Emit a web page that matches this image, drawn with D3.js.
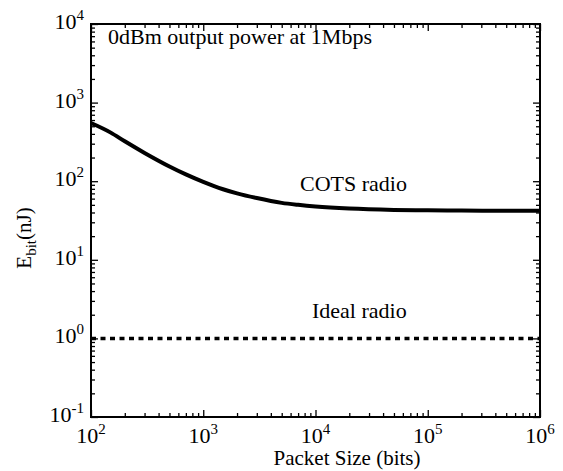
<!DOCTYPE html>
<html>
<head>
<meta charset="utf-8">
<script src="https://cdn.jsdelivr.net/npm/d3@7"></script>
<style>
  body { margin: 0; background: #fff; }
  svg { display: block; }
</style>
</head>
<body>
<svg id="chart" width="563" height="471"></svg>
<script>
// Energy per bit versus packet size, log-log
const packetSize = [100, 150, 200, 300, 500, 700, 1000, 1500, 2000, 3000, 5000, 7000,
                    10000, 20000, 50000, 100000, 200000, 500000, 1000000];
const cotsEnergy = [550, 415, 322, 229, 154, 122, 98, 79, 70, 61, 53, 50,
                    47.6, 44.8, 43.1, 42.6, 42.3, 42.1, 42];
const idealSize = [100, 1000000];
const idealEnergy = [1, 1];
const xTickExponents = [2, 3, 4, 5, 6];
const yTickExponents = [-1, 0, 1, 2, 3, 4];
const seriesLabels = ["COTS radio", "Ideal radio"];
const titleText = "0dBm output power at 1Mbps";
const xTitle = "Packet Size (bits)";

const FONT = "Liberation Serif";
const W = 563, H = 471;
const margin = { top: 24, right: 23, bottom: 54, left: 91 };
const iw = W - margin.left - margin.right;
const ih = H - margin.top - margin.bottom;

const svg = d3.select("#chart");
const g = svg.append("g").attr("transform", `translate(${margin.left},${margin.top})`);

const x = d3.scaleLog().domain([1e2, 1e6]).range([0, iw]);
const y = d3.scaleLog().domain([1e-1, 1e4]).range([ih, 0]);

const MAJOR = 7, MINOR = 4;
const isMajor = v => Math.abs(Math.log10(v) - Math.round(Math.log10(v))) < 1e-9;
const xTicks = x.ticks();
const yTicks = y.ticks();

function styleAxis(sel, dir) {
  sel.select(".domain").remove();
  sel.selectAll(".tick text").remove();
  sel.selectAll(".tick line")
    .attr("stroke", "#000")
    .attr("stroke-width", 1.3)
    .each(function (d) {
      const len = (isMajor(d) ? MAJOR : MINOR) * dir.sign;
      d3.select(this).attr(dir.attr, len);
    });
}

// ticks point inward on all four sides
g.append("g").attr("transform", `translate(0,${ih})`)
  .call(d3.axisBottom(x).tickValues(xTicks).tickFormat(""))
  .call(s => styleAxis(s, { attr: "y2", sign: -1 }));
g.append("g")
  .call(d3.axisTop(x).tickValues(xTicks).tickFormat(""))
  .call(s => styleAxis(s, { attr: "y2", sign: 1 }));
g.append("g")
  .call(d3.axisLeft(y).tickValues(yTicks).tickFormat(""))
  .call(s => styleAxis(s, { attr: "x2", sign: 1 }));
g.append("g").attr("transform", `translate(${iw},0)`)
  .call(d3.axisRight(y).tickValues(yTicks).tickFormat(""))
  .call(s => styleAxis(s, { attr: "x2", sign: -1 }));

// frame
g.append("rect").attr("width", iw).attr("height", ih)
  .attr("fill", "none").attr("stroke", "#000").attr("stroke-width", 2);

function addText(parent, size) {
  return parent.append("text")
    .style("font-family", FONT)
    .attr("font-size", size)
    .attr("fill", "#000");
}

// power-of-ten labels
function powLabel(sel, exp) {
  sel.append("tspan").text("10");
  sel.append("tspan").attr("dy", -9).attr("font-size", 15).text(exp);
}
xTickExponents.forEach(e => {
  addText(g, 22)
    .attr("x", x(Math.pow(10, e)))
    .attr("y", ih + 26)
    .attr("text-anchor", "middle")
    .call(s => powLabel(s, e));
});
yTickExponents.forEach(e => {
  addText(g, 22)
    .attr("x", -7)
    .attr("y", y(Math.pow(10, e)) + 5)
    .attr("text-anchor", "end")
    .call(s => powLabel(s, e));
});

// series
const line = d3.line().x(d => x(d[0])).y(d => y(d[1])).curve(d3.curveMonotoneX);
g.append("path")
  .datum(packetSize.map((p, i) => [p, cotsEnergy[i]]))
  .attr("d", line)
  .attr("fill", "none").attr("stroke", "#000").attr("stroke-width", 4);
g.append("path")
  .datum(idealSize.map((p, i) => [p, idealEnergy[i]]))
  .attr("d", line)
  .attr("fill", "none").attr("stroke", "#000").attr("stroke-width", 3.5)
  .attr("stroke-dasharray", "5,4.5");

// annotations
addText(g, 22).attr("x", 17).attr("y", 20).text(titleText);
addText(g, 22).attr("x", 209).attr("y", 167).text(seriesLabels[0]);
addText(g, 22).attr("x", 221).attr("y", 294).text(seriesLabels[1]);

// axis titles
addText(svg, 21)
  .attr("x", 347).attr("y", 465)
  .attr("text-anchor", "middle")
  .text(xTitle);
const yt = addText(svg, 21)
  .attr("transform", "translate(31,238) rotate(-90)")
  .attr("text-anchor", "middle");
yt.append("tspan").text("E");
yt.append("tspan").attr("dy", 5).attr("font-size", 15).text("bit");
yt.append("tspan").attr("dy", -5).text("(nJ)");
</script>
</body>
</html>
